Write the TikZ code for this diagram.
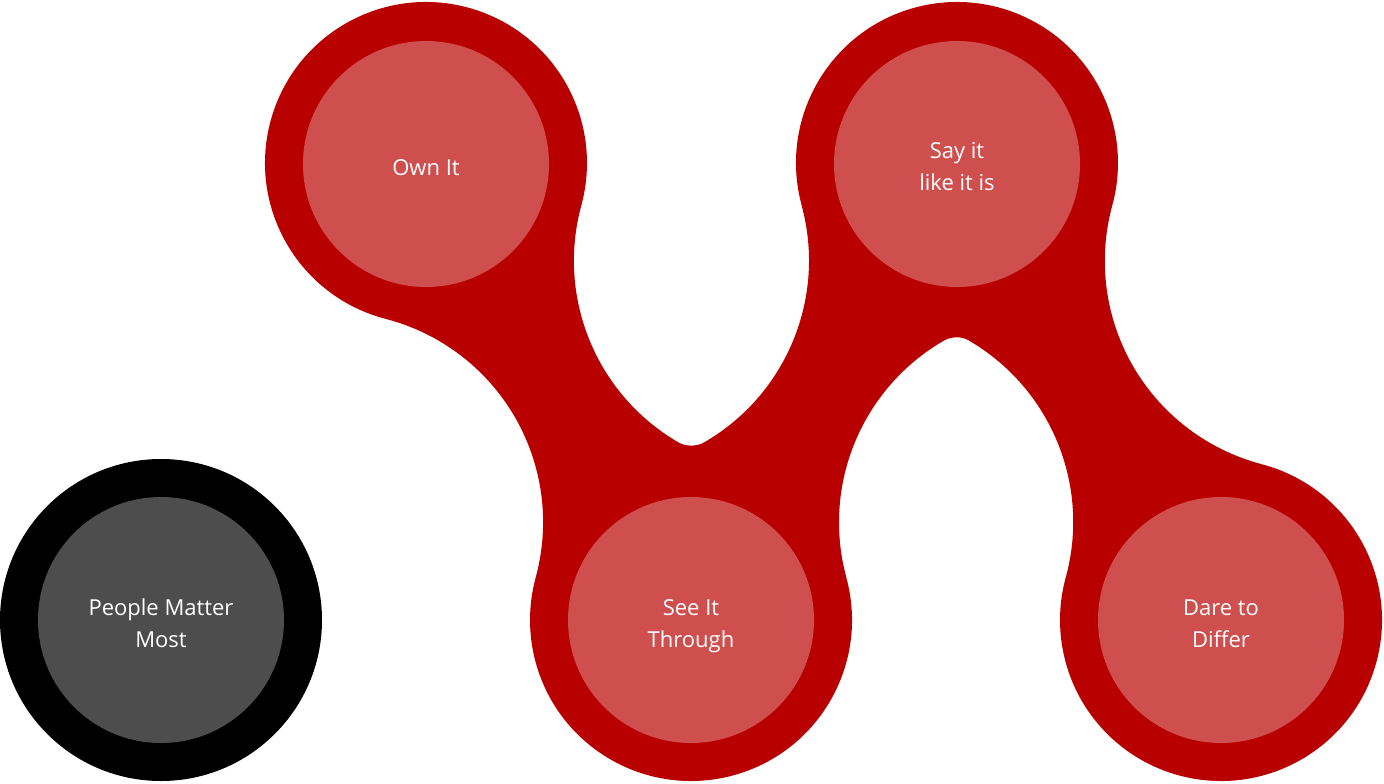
\documentclass[tikz,border=0pt]{standalone}
\usepackage{fontspec}
\setmainfont{Open Sans}
\usetikzlibrary{calc}
\definecolor{blobred}{HTML}{B80000}
\definecolor{innerred}{HTML}{CF4F4F}
\definecolor{innergray}{HTML}{4D4D4D}
\tikzset{
  valuedisc/.style={circle, inner sep=0pt, minimum size=246pt, fill=innerred},
  ringdisc/.style={circle, inner sep=0pt, minimum size=322pt, fill=black},
  valuetext/.style={inner sep=0pt, text=white, align=center,
    font=\fontsize{22}{32}\selectfont},
}
\begin{document}
\begin{tikzpicture}[x=1pt,y=-1pt]
\useasboundingbox (0,0) rectangle (1384,784);
% circle centres of the red chain
\coordinate (C1) at (426,163);
\coordinate (C2) at (691,620);
\coordinate (C3) at (957,163);
\coordinate (C4) at (1221,620);
% centres of the neck circles (radius 210, tangent to the r=161 circles)
\coordinate (N12o) at (333.1,522.2);
\coordinate (N12i) at (783.9,260.8);
\coordinate (N23i) at (599.0,260.6);
\coordinate (N23o) at (1049.0,522.4);
\coordinate (N34o) at (1314.8,261.0);
\coordinate (N34i) at (863.2,522.0);
% red connected blob
\fill[blobred]
  ($(C1)+(104.5:161)$) arc[start angle=104.5, end angle=375.3, radius=161]
  -- ($(N12i)+(195.3:210)$) arc[start angle=195.3, end angle=120, radius=210]
  .. controls (685.8,446.7) and (697.1,446.5) .. ($(N23i)+(60:210)$)
  arc[start angle=60, end angle=-15.25, radius=210]
  -- ($(C3)+(164.75:161)$) arc[start angle=164.75, end angle=375.32, radius=161]
  -- ($(N34o)+(195.32:210)$) arc[start angle=195.32, end angle=104.64, radius=210]
  -- ($(C4)+(-75.36:161)$) arc[start angle=-75.36, end angle=195.32, radius=161]
  -- ($(N34i)+(15.32:210)$) arc[start angle=15.32, end angle=-60, radius=210]
  .. controls (961.3,336.1) and (950.9,336.5) .. ($(N23o)+(240:210)$)
  arc[start angle=240, end angle=164.75, radius=210]
  -- ($(C2)+(-15.25:161)$) arc[start angle=-15.25, end angle=195.3, radius=161]
  -- ($(N12o)+(15.3:210)$) arc[start angle=15.3, end angle=-75.5, radius=210]
  -- cycle;
% black ring
\node[ringdisc] (ring) at (161,620) {};
\node[valuedisc, fill=innergray] (peopledisc) at (161,620) {};
% value discs
\node[valuedisc] (owndisc) at (426,164) {};
\node[valuedisc] (seedisc) at (691,620) {};
\node[valuedisc] (saydisc) at (957,164) {};
\node[valuedisc] (daredisc) at (1221,620) {};
% texts
\node[valuetext] (people) at (161,625) {\strut People Matter\\\strut Most};
\node[valuetext] (own) at (426,169) {\strut Own It};
\node[valuetext] (see) at (691,625) {\strut See It\\\strut Through};
\node[valuetext] (say) at (957,168) {\strut Say it\\\strut like it is};
\node[valuetext] (dare) at (1221,625) {\strut Dare to\\\strut Differ};
\end{tikzpicture}
\end{document}
